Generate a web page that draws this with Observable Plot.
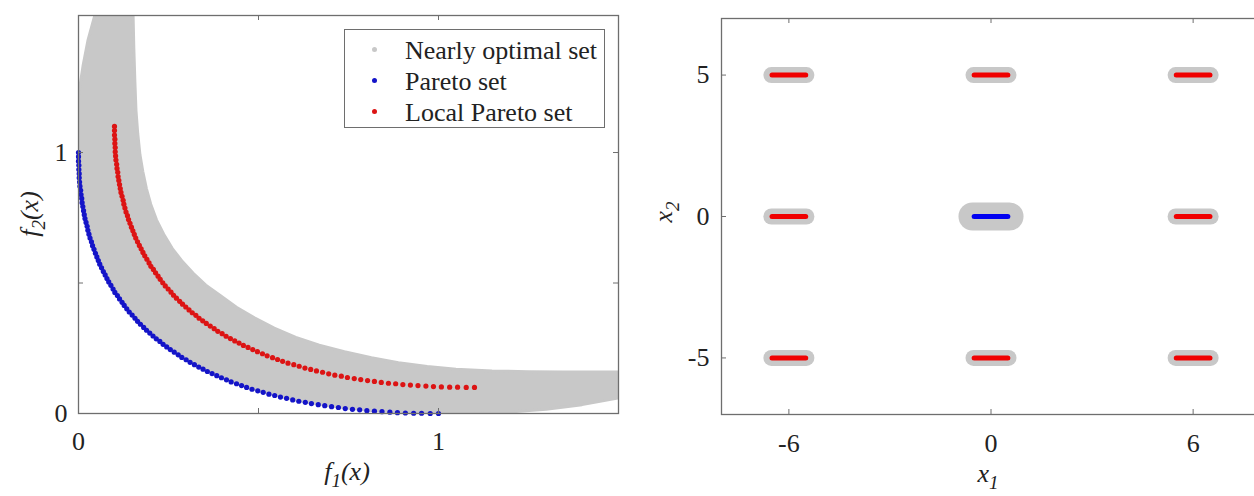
<!DOCTYPE html>
<html><head><meta charset="utf-8">
<script src="https://cdn.jsdelivr.net/npm/d3@7"></script>
<script src="https://cdn.jsdelivr.net/npm/@observablehq/plot@0.6"></script>
<style>
html,body{margin:0;padding:0;background:#fff;overflow:hidden;width:1254px;height:496px}
#wrap{position:relative;width:1254px;height:496px;overflow:hidden;font-family:"Liberation Serif",serif;color:#222}
#wrap svg, #wrap svg text, #wrap svg g{font-family:"Liberation Serif",serif !important}
.panel{position:absolute;top:0}
.lbl{position:absolute;font-family:"Liberation Serif",serif;font-style:italic;font-size:26px;line-height:26px;white-space:nowrap}
.lbl sub{font-size:19px;vertical-align:-7px;line-height:0}
.legend{position:absolute;left:344px;top:29px;width:259px;height:97px;border:1.5px solid #6e6e6e;background:#fff}
.legend .row{position:absolute;left:0;font-size:26px;line-height:26px;white-space:nowrap}
.legend .mk{position:absolute;width:5px;height:5px;border-radius:50%}
.legend .tx{position:absolute;left:60px;top:0}
</style></head><body><div id="wrap"></div>
<script>
// ---------- Left panel: objective space ----------
const paretoF1 = [0,0,0,0.001,0.001,0.002,0.002,0.003,0.004,0.006,
0.007,0.009,0.010,0.012,0.014,0.016,0.018,0.021,0.024,0.026,
0.029,0.032,0.036,0.039,0.043,0.047,0.051,0.055,0.059,0.064,
0.069,0.074,0.079,0.084,0.090,0.096,0.101,0.108,0.114,0.121,
0.127,0.134,0.141,0.149,0.157,0.164,0.172,0.181,0.189,0.198,
0.207,0.216,0.226,0.235,0.245,0.255,0.266,0.277,0.287,0.299,
0.310,0.322,0.334,0.346,0.358,0.371,0.384,0.397,0.411,0.424,
0.439,0.453,0.467,0.482,0.498,0.513,0.529,0.545,0.561,0.578,
0.595,0.612,0.630,0.647,0.666,0.684,0.703,0.722,0.741,0.761,
0.781,0.801,0.822,0.843,0.865,0.886,0.908,0.931,0.953,0.977,1];
const paretoF2 = [1,0.984,0.967,0.951,0.935,0.919,0.903,0.887,0.871,0.855,
0.839,0.824,0.808,0.793,0.777,0.762,0.747,0.732,0.717,0.702,
0.687,0.672,0.658,0.643,0.629,0.614,0.600,0.586,0.572,0.558,
0.544,0.531,0.517,0.504,0.491,0.477,0.464,0.452,0.439,0.426,
0.414,0.401,0.389,0.377,0.365,0.353,0.342,0.330,0.319,0.308,
0.297,0.286,0.276,0.265,0.255,0.245,0.235,0.225,0.215,0.206,
0.196,0.187,0.178,0.170,0.161,0.153,0.145,0.137,0.129,0.121,
0.114,0.107,0.100,0.093,0.087,0.081,0.074,0.069,0.063,0.058,
0.052,0.047,0.043,0.038,0.034,0.030,0.026,0.023,0.019,0.016,
0.014,0.011,0.009,0.007,0.005,0.003,0.002,0.001,0.001,0,0];
const localF1 = [0.1,0.1,0.1,0.101,0.101,0.102,0.102,0.103,0.104,0.106,
0.107,0.109,0.110,0.112,0.114,0.116,0.118,0.121,0.124,0.126,
0.129,0.132,0.136,0.139,0.143,0.147,0.151,0.155,0.159,0.164,
0.169,0.174,0.179,0.184,0.190,0.196,0.201,0.208,0.214,0.221,
0.227,0.234,0.241,0.249,0.257,0.264,0.272,0.281,0.289,0.298,
0.307,0.316,0.326,0.335,0.345,0.355,0.366,0.377,0.387,0.399,
0.410,0.422,0.434,0.446,0.458,0.471,0.484,0.497,0.511,0.524,
0.539,0.553,0.567,0.582,0.598,0.613,0.629,0.645,0.661,0.678,
0.695,0.712,0.730,0.747,0.766,0.784,0.803,0.822,0.841,0.861,
0.881,0.901,0.922,0.943,0.965,0.986,1.008,1.031,1.053,1.077,1.1];
const localF2 = [1.1,1.084,1.067,1.051,1.035,1.019,1.003,0.987,0.971,0.955,
0.939,0.924,0.908,0.893,0.877,0.862,0.847,0.832,0.817,0.802,
0.787,0.772,0.758,0.743,0.729,0.714,0.700,0.686,0.672,0.658,
0.644,0.631,0.617,0.604,0.591,0.577,0.564,0.552,0.539,0.526,
0.514,0.501,0.489,0.477,0.465,0.453,0.442,0.430,0.419,0.408,
0.397,0.386,0.376,0.365,0.355,0.345,0.335,0.325,0.315,0.306,
0.296,0.287,0.278,0.270,0.261,0.253,0.245,0.237,0.229,0.221,
0.214,0.207,0.200,0.193,0.187,0.181,0.174,0.169,0.163,0.158,
0.152,0.147,0.143,0.138,0.134,0.130,0.126,0.123,0.119,0.116,
0.114,0.111,0.109,0.107,0.105,0.103,0.102,0.101,0.101,0.1,0.1];
// nearly optimal set: inner (lower-left) and outer (upper-right) edges of the gray band
const nearInnerF1 = [0.047,0.040,0.028,0.014,0.004,0,0,0.002,0.005,0.01,0.02,0.03,0.045,0.06,0.08,0.1,0.15,0.2,0.3,0.4,0.5,0.6,0.7,0.8,0.9,1.0,1.1,1.2,1.3,1.4,1.45,1.5];
const nearInnerF2 = [1.525,1.49,1.43,1.33,1.24,1.2,1.0,0.913,0.864,0.81,0.737,0.684,0.621,0.570,0.514,0.468,0.375,0.306,0.205,0.135,0.086,0.051,0.027,0.011,0.003,0,0,0.004,0.014,0.032,0.045,0.058];
const nearOuterF1 = [0.153,0.155,0.158,0.161,0.166,0.172,0.180,0.190,0.202,0.218,0.238,0.262,0.290,0.320,0.355,0.395,0.440,0.490,0.545,0.605,0.670,0.740,0.815,0.890,0.970,1.050,1.150,1.250,1.350,1.420,1.470,1.500];
const nearOuterF2 = [1.525,1.40,1.27,1.16,1.07,0.99,0.925,0.86,0.80,0.74,0.685,0.63,0.58,0.535,0.49,0.45,0.405,0.365,0.325,0.29,0.26,0.235,0.212,0.193,0.178,0.168,0.161,0.158,0.157,0.157,0.157,0.157];
const leftTickValues = [0, 0.5, 1];
const leftTickLabels = [0, 1];

// ---------- Right panel: decision space ----------
const regionX1 = [-6, 0, 6];
const regionX2 = [5, 0, -5];
const paretoRegion = [0, 0];
const setHalfLength = 0.5;
const nearHalfLocal = 0.52;
const nearHalfPareto = 0.55;
const rightTicksX = [-6, 0, 6];
const rightTicksY = [-5, 0, 5];

const legendItems = ["Nearly optimal set", "Pareto set", "Local Pareto set"];

const GRAY = "#c8c8c8", BLUE_L = "#1414c8", RED_L = "#dc1414", BLUE_R = "#0000f0", RED_R = "#f00000";
const FRAME = "#6e6e6e", FONT = "Liberation Serif";
const SVGSTYLE = "font-family: 'Liberation Serif', serif; font-size: 26px; color: #222; background: transparent; overflow: visible;";

const pareto = paretoF1.map((v, i) => ({f1: v, f2: paretoF2[i]}));
const local = localF1.map((v, i) => ({f1: v, f2: localF2[i]}));
const band = nearInnerF1.map((v, i) => ({ix: v, iy: nearInnerF2[i], ox: nearOuterF1[i], oy: nearOuterF2[i]}));

const LW = 640, LH = 496, LmL = 78, LmR = 22, LmT = 15, LmB = 83;
const LfW = LW - LmL - LmR, LfH = LH - LmT - LmB, tk = 5;
const axisText = {tickSize: 0, label: null, fontSize: 26, fontFamily: FONT, fill: "#222", tickFormat: d => String(d)};

const left = Plot.plot({
  width: LW, height: LH, marginLeft: LmL, marginRight: LmR, marginTop: LmT, marginBottom: LmB,
  x: {domain: [0, 1.5]}, y: {domain: [0, 1.525]},
  style: SVGSTYLE,
  marks: [
    Plot.area(band, {x1: "ix", y1: "iy", x2: "ox", y2: "oy", fill: GRAY, stroke: GRAY, strokeWidth: 3, clip: true}),
    Plot.dot(pareto, {x: "f1", y: "f2", r: 2.6, fill: BLUE_L, stroke: "none"}),
    Plot.dot(local, {x: "f1", y: "f2", r: 2.6, fill: RED_L, stroke: "none"}),
    Plot.ruleX(leftTickValues, {stroke: FRAME, insetTop: LfH - tk}),
    Plot.ruleX(leftTickValues, {stroke: FRAME, insetBottom: LfH - tk}),
    Plot.ruleY(leftTickValues, {stroke: FRAME, insetRight: LfW - tk}),
    Plot.ruleY(leftTickValues, {stroke: FRAME, insetLeft: LfW - tk}),
    Plot.frame({stroke: FRAME, strokeWidth: 1.3}),
    Plot.axisX({...axisText, ticks: leftTickLabels, tickPadding: 18}),
    Plot.axisY({...axisText, ticks: leftTickLabels, tickPadding: 11})
  ]
});

const segments = [];
for (const y of regionX2) for (const x of regionX1) {
  const isP = x === paretoRegion[0] && y === paretoRegion[1];
  segments.push({cx: x, cy: y, type: isP ? "pareto" : "local", near: isP ? nearHalfPareto : nearHalfLocal});
}

const RW = 620, RH = 496, RmL = 81, RmR = 0, RmT = 18, RmB = 82;
const RfW = RW - RmL - RmR, RfH = RH - RmT - RmB;

const right = Plot.plot({
  width: RW, height: RH, marginLeft: RmL, marginRight: RmR, marginTop: RmT, marginBottom: RmB,
  x: {domain: [-8, 8]}, y: {domain: [-7, 7]},
  style: SVGSTYLE,
  marks: [
    Plot.link(segments.filter(d => d.type === "local"), {x1: d => d.cx - d.near, x2: d => d.cx + d.near, y1: "cy", y2: "cy", stroke: GRAY, strokeWidth: 16, strokeLinecap: "round"}),
    Plot.link(segments.filter(d => d.type === "pareto"), {x1: d => d.cx - d.near, x2: d => d.cx + d.near, y1: "cy", y2: "cy", stroke: GRAY, strokeWidth: 28, strokeLinecap: "round"}),
    Plot.link(segments.filter(d => d.type === "local"), {x1: d => d.cx - setHalfLength, x2: d => d.cx + setHalfLength, y1: "cy", y2: "cy", stroke: RED_R, strokeWidth: 5, strokeLinecap: "round"}),
    Plot.link(segments.filter(d => d.type === "pareto"), {x1: d => d.cx - setHalfLength, x2: d => d.cx + setHalfLength, y1: "cy", y2: "cy", stroke: BLUE_R, strokeWidth: 5, strokeLinecap: "round"}),
    Plot.ruleX(rightTicksX, {stroke: FRAME, insetTop: RfH - tk}),
    Plot.ruleX(rightTicksX, {stroke: FRAME, insetBottom: RfH - tk}),
    Plot.ruleY(rightTicksY, {stroke: FRAME, insetRight: RfW - tk}),
    Plot.frame({stroke: FRAME, strokeWidth: 1.3}),
    Plot.axisX({...axisText, ticks: rightTicksX, tickPadding: 19}),
    Plot.axisY({...axisText, ticks: rightTicksY, tickPadding: 12})
  ]
});

const wrap = document.getElementById("wrap");
left.classList.add("panel"); left.style.left = "0px"; left.style.position = "absolute";
right.classList.add("panel"); right.style.left = "640px"; right.style.position = "absolute";
wrap.appendChild(left);
wrap.appendChild(right);
wrap.querySelectorAll("svg text").forEach(t => t.setAttribute("font-family", "Liberation Serif"));

function addLabel(html, cx, cy, rotate) {
  const d = document.createElement("div");
  d.className = "lbl";
  d.innerHTML = html;
  d.style.left = cx + "px";
  d.style.top = cy + "px";
  d.style.transform = "translate(-50%,-50%)" + (rotate ? " rotate(-90deg)" : "");
  wrap.appendChild(d);
}
addLabel("f<sub>1</sub>(x)", 347, 472, false);
addLabel("f<sub>2</sub>(x)", 30, 214, true);
addLabel("x<sub>1</sub>", 988, 474, false);
addLabel("x<sub>2</sub>", 664, 212, true);

// legend
const lg = document.createElement("div");
lg.className = "legend";
const legendColors = [GRAY, BLUE_L, RED_L];
legendItems.forEach((t, i) => {
  const row = document.createElement("div");
  row.className = "row";
  row.style.top = (8 + i * 31) + "px";
  row.style.width = "100%";
  const mk = document.createElement("span");
  mk.className = "mk";
  mk.style.background = legendColors[i];
  mk.style.left = "27px";
  mk.style.top = "9px";
  const tx = document.createElement("span");
  tx.className = "tx";
  tx.textContent = t;
  row.appendChild(mk); row.appendChild(tx);
  lg.appendChild(row);
});
wrap.appendChild(lg);
</script></body></html>
